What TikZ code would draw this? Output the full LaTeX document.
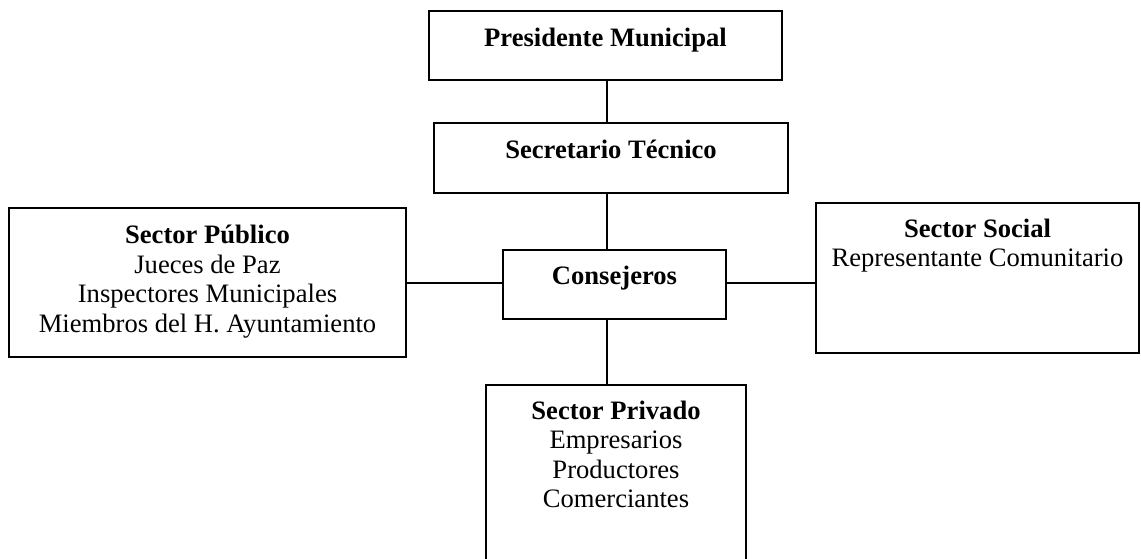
\documentclass[tikz,border=0pt]{standalone}
\usepackage{fontspec}
\setmainfont{Liberation Serif}
\begin{document}
\begin{tikzpicture}[x=0.5pt, y=-0.5pt, line join=miter]
\tikzstyle{box} = [draw, line width=1pt, rectangle, inner sep=0pt]
\tikzstyle{link} = [draw, line width=1pt, -]
\tikzstyle{txt} = [inner sep=0pt, anchor=base, align=center, font=\fontsize{13.3}{14.75}\selectfont]
  \useasboundingbox (0,0) rectangle (1141,558);
  % boxes
  \node[box, minimum width=176.5pt, minimum height=34.5pt] (pres) at (605.5,45.5) {};
  \node[box, minimum width=177pt, minimum height=35pt] (sec) at (611,158) {};
  \node[box, minimum width=198.5pt, minimum height=74.5pt] (pub) at (207.5,282.5) {};
  \node[box, minimum width=111.5pt, minimum height=34.5pt] (cons) at (614.5,284.5) {};
  \node[box, minimum width=161.5pt, minimum height=75pt] (soc) at (977.5,278) {};
  \node[box, minimum width=130pt, minimum height=107.5pt] (priv) at (616,492.5) {};
  % texts (base = last line)
  \node[txt] (presT) at ([yshift=-18pt]pres.north) {\textbf{Presidente Municipal}};
  \node[txt] (secT) at ([yshift=-18pt]sec.north) {\textbf{Secretario Técnico}};
  \node[txt] (consT) at ([yshift=-17.5pt]cons.north) {\textbf{Consejeros}};
  \node[txt] (pubT) at ([yshift=-62.6pt]pub.north) {\textbf{Sector Público}\\Jueces de Paz\\Inspectores Municipales\\Miembros del H. Ayuntamiento};
  \node[txt] (socT) at ([yshift=-32.3pt]soc.north) {\textbf{Sector Social}\\Representante Comunitario};
  \node[txt] (privT) at ([yshift=-61.9pt]priv.north) {\textbf{Sector Privado}\\Empresarios\\Productores\\Comerciantes};
  % connectors
  \coordinate (axis) at (607,0);
  \draw[link] (axis |- pres.south) -- (axis |- sec.north);
  \draw[link] (axis |- sec.south) -- (axis |- cons.north);
  \draw[link] (axis |- cons.south) -- (axis |- priv.north);
  \draw[link] (pub.east) -- (pub.east -| cons.west);
  \draw[link] (pub.east -| cons.east) -- (pub.east -| soc.west);
\end{tikzpicture}
\end{document}
